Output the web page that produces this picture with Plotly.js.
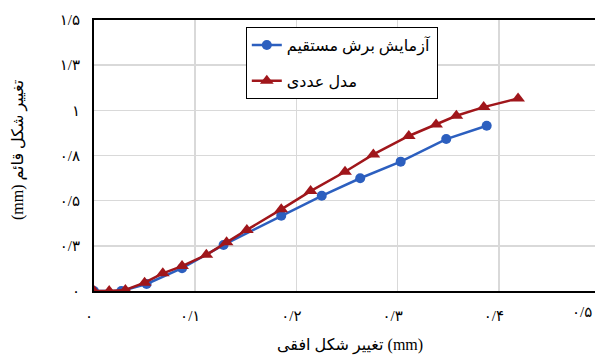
<!DOCTYPE html>
<html>
<head>
<meta charset="utf-8">
<script src="https://cdn.plot.ly/plotly-3.0.1.min.js"></script>
<style>html,body{margin:0;padding:0;background:#fff;}#chart{width:595px;height:360px;}</style>
</head>
<body>
<div id="chart"></div>
<script>
// Experimental (direct shear test)
const expName = 'آزمایش برش مستقیم';
const expX = [0, 0.027, 0.052, 0.087, 0.128, 0.185, 0.225, 0.263, 0.303, 0.348, 0.388];
const expY = [0, 0, 0.039, 0.126, 0.255, 0.417, 0.527, 0.624, 0.716, 0.841, 0.915];
// Numerical model
const numName = 'مدل عددی';
const numX = [0, 0.015, 0.031, 0.050, 0.068, 0.087, 0.111, 0.131, 0.151, 0.185, 0.214, 0.248, 0.276, 0.311, 0.338, 0.358, 0.385, 0.419];
const numY = [0, 0, 0.006, 0.046, 0.098, 0.138, 0.200, 0.270, 0.338, 0.452, 0.553, 0.660, 0.756, 0.858, 0.922, 0.970, 1.018, 1.066];
// Axis ticks
const xTickVals = [0, 0.1, 0.2, 0.3, 0.4];
const xTickText = ['۰', '۰/۱', '۰/۲', '۰/۳', '۰/۴'];
const xLastTickText = '۰/۵';
const yTickVals = [0, 0.25, 0.5, 0.75, 1, 1.25, 1.5];
const yTickText = ['۰', '۰/۳', '۰/۵', '۰/۸', '۱', '۱/۳', '۱/۵'];
const xTitle = 'تغییر شکل افقی (mm)';
const yTitle = '(mm) تغییر شکل قائم';

const FONT = 'Liberation Serif, DejaVu Sans, serif';

const traces = [
  {x: expX, y: expY, name: expName, type: 'scatter', mode: 'lines+markers', legendgroup: 'a',
   line: {color: '#2c5fbf', width: 2.5}, marker: {symbol: 'circle', size: 10, color: '#2c5fbf'}},
  {x: numX, y: numY, name: numName, type: 'scatter', mode: 'lines+markers', legendgroup: 'b',
   line: {color: '#a0161b', width: 2.5}, marker: {symbol: 'triangle-up', size: 12, color: '#a0161b'}}
];

const layout = {
  width: 595, height: 360,
  margin: {l: 94, r: 0, t: 20, b: 69},
  paper_bgcolor: '#fff', plot_bgcolor: '#fff',
  font: {family: FONT, size: 15, color: '#000'},
  showlegend: true,
  legend: {x: 0.303, y: 0.974, xanchor: 'left', yanchor: 'top', bgcolor: '#fff',
           bordercolor: '#000', borderwidth: 1, font: {size: 16, family: FONT},
           tracegroupgap: 12},
  xaxis: {range: [0, 0.495], tickvals: xTickVals, ticktext: xTickText,
          showgrid: true, gridcolor: '#d9d9d9', gridwidth: 1.5, zeroline: false,
          showline: true, linecolor: '#000', linewidth: 2, mirror: true,
          ticks: '', ticklabelstandoff: 10, ticklabelshift: -5, tickfont: {size: 15}},
  yaxis: {range: [0, 1.5], tickvals: yTickVals, ticktext: yTickText,
          showgrid: true, gridcolor: '#d9d9d9', gridwidth: 1.5, zeroline: false,
          showline: true, linecolor: '#000', linewidth: 2, mirror: false,
          ticks: '', ticklabelstandoff: 9, tickfont: {size: 15}},
  annotations: [
    {x: 1, y: 0, xref: 'paper', yref: 'paper', yshift: -21, xshift: -1, text: xLastTickText,
     showarrow: false, xanchor: 'right', yanchor: 'middle', font: {size: 15}},
    {x: 0.511, y: -0.2, xref: 'paper', yref: 'paper', text: xTitle, showarrow: false,
     xanchor: 'center', yanchor: 'middle', font: {size: 16}},
    {x: (18 - 94) / 501, y: 0.52, xref: 'paper', yref: 'paper', text: yTitle, showarrow: false,
     textangle: -90, xanchor: 'center', yanchor: 'middle', font: {size: 16}}
  ]
};

Plotly.newPlot('chart', traces, layout, {displayModeBar: false, staticPlot: true});
</script>
</body>
</html>
